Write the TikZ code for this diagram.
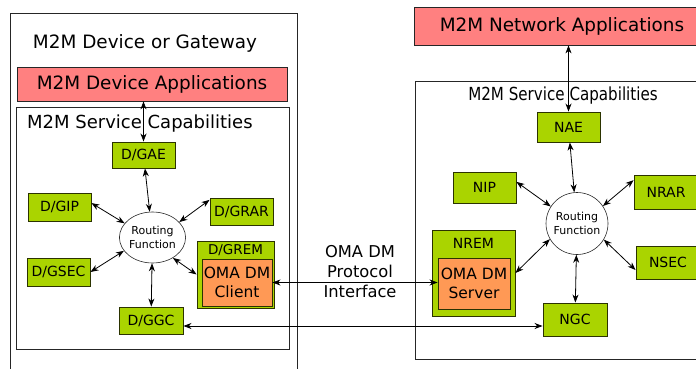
\documentclass[tikz,border=0pt]{standalone}
\usepackage{fontspec}
\usepackage{graphicx}
\setmainfont{DejaVu Sans}
\usetikzlibrary{arrows.meta, positioning, shapes.geometric}

\definecolor{appred}{HTML}{FF8080}
\definecolor{capgreen}{HTML}{AAD400}
\definecolor{omaorange}{HTML}{FF9955}
\definecolor{capedge}{HTML}{2B3300}

\tikzset{
    frame/.style={draw=black!85, line width=.8pt},
    title/.style={inner sep=0pt, font=\fontsize{18.4}{20}\selectfont},
    app/.style={draw=black!85, fill=appred, line width=.8pt, inner sep=0pt,
                font=\fontsize{18.4}{20}\selectfont},
    capbox/.style={draw=capedge, fill=capgreen, line width=.9pt, inner sep=0pt,
                font=\fontsize{14}{16}\selectfont},
    oma/.style={draw=capedge, fill=omaorange, line width=.9pt, inner sep=0pt,
                align=center, font=\fontsize{15.5}{19}\selectfont},
    router/.style={draw=black!85, fill=white, line width=.6pt, inner sep=0pt,
                   align=center, font=\fontsize{11}{14}\selectfont},
    link/.style={{Stealth[length=8pt,width=6pt,inset=2.5pt]}-{Stealth[length=8pt,width=6pt,inset=2.5pt]},
                 line width=.8pt}
}

\begin{document}
\begin{tikzpicture}[x=1pt, y=-1pt]

        \useasboundingbox (0,0) rectangle (696,369);
        \clip (0,0) rectangle (696,369);

        % Draw the frames
        \draw[frame] (10,13) rectangle (297,380);
        \draw[frame] (16,107) rectangle (289,349);
        \draw[frame] (415,81) rectangle (710,359);

        % Frame labels
        \node[title] at (145,43) (gateway) {M2M Device or Gateway};
        \node[title, font=\fontsize{18}{20}\selectfont, anchor=west] at (27,124) (lcaps) {M2M Service Capabilities};
        \node[title, font=\fontsize{18}{20}\selectfont] at (563,96) (rcaps) {\scalebox{0.84}[1]{M2M Service Capabilities}};

        % Draw the applications
        \node[app, minimum width=270, minimum height=34] at (152,84) (devapps) {M2M Device Applications};
        \node[app, minimum width=296, minimum height=38] at (562,26) (netapps) {M2M Network Applications};

        % Device side capabilities
        \node[capbox, minimum width=63, minimum height=26] at (143.5,155)   (gae)  {D/GAE};
        \node[capbox, minimum width=63, minimum height=28] at (59.5,207)    (gip)  {D/GIP};
        \node[capbox, minimum width=63, minimum height=27] at (241.5,211.5) (grar) {D/GRAR};
        \node[capbox, minimum width=63, minimum height=28] at (58.5,272)    (gsec) {D/GSEC};
        \node[capbox, minimum width=64, minimum height=27] at (151,320.5)   (ggc)  {D/GGC};
        \node[capbox, minimum width=77, minimum height=67] at (235.5,274.5) (grem) {};
        \node[capbox, draw=none, fill=none, font=\fontsize{13.5}{16}\selectfont] at (235.5,250) (gremlabel) {D/GREM};
        \node[oma, minimum width=70, minimum height=47] at (237,282.5)   (client) {OMA DM\\Client};
        \node[router, ellipse, minimum width=63, minimum height=51] at (152.5,237.5) (lrouter) {Routing\\Function};

        % Network side capabilities
        \node[capbox, minimum width=63, minimum height=30] at (568.5,127)   (nae)  {NAE};
        \node[capbox, minimum width=63, minimum height=31] at (484.5,187.5) (nip)  {NIP};
        \node[capbox, minimum width=64, minimum height=34] at (666,192)     (nrar) {NRAR};
        \node[capbox, minimum width=64, minimum height=33] at (668,262.5)   (nsec) {NSEC};
        \node[capbox, minimum width=64, minimum height=33] at (575,319.5)   (ngc)  {NGC};
        \node[capbox, minimum width=83, minimum height=86] at (473.5,273)   (nrem) {};
        \node[capbox, draw=none, fill=none] at (473.5,243) (nremlabel) {NREM};
        \node[oma, minimum width=72, minimum height=51] at (474,283.5)   (server) {OMA DM\\Server};
        \node[router, circle, minimum size=62] at (577,223.5) (rrouter) {Routing\\Function};

        % Protocol label
        \node[align=center, inner sep=0pt, font=\fontsize{16.3}{20}\selectfont] at (360,272) (protocol) {OMA DM\\Protocol\\Interface};

        % Connect the device side
        \draw[link] (gae.north |- devapps.south) -- (gae.north);
        \draw[link] (gae)     -- (lrouter);
        \draw[link] (gip.7)   -- (lrouter.153);
        \draw[link] (grar.160) -- (lrouter.30);
        \draw[link] (gsec.east) -- (lrouter.205);
        \draw[link] (grem.west) -- (lrouter.-45);
        \draw[link] (ggc)     -- (lrouter);

        % Connect the network side
        \draw[link] (nae.north |- netapps.south) -- (nae.north);
        \draw[link] (nae)     -- (rrouter);
        \draw[link] (nip.10)  -- (rrouter.147);
        \draw[link] (nrar.160) -- (rrouter.34);
        \draw[link] (nrem.east) -- (rrouter.210);
        \draw[link] (nsec.193) -- (rrouter.-31);
        \draw[link] (ngc)     -- (rrouter);

        % Connect the two sides
        \draw[link] (client.east) -- (client.east -| server.west);
        \draw[link] ([yshift=-5.5pt]ggc.east) -- ([yshift=-5.5pt]ggc.east -| ngc.west);
    \end{tikzpicture}
\end{document}
